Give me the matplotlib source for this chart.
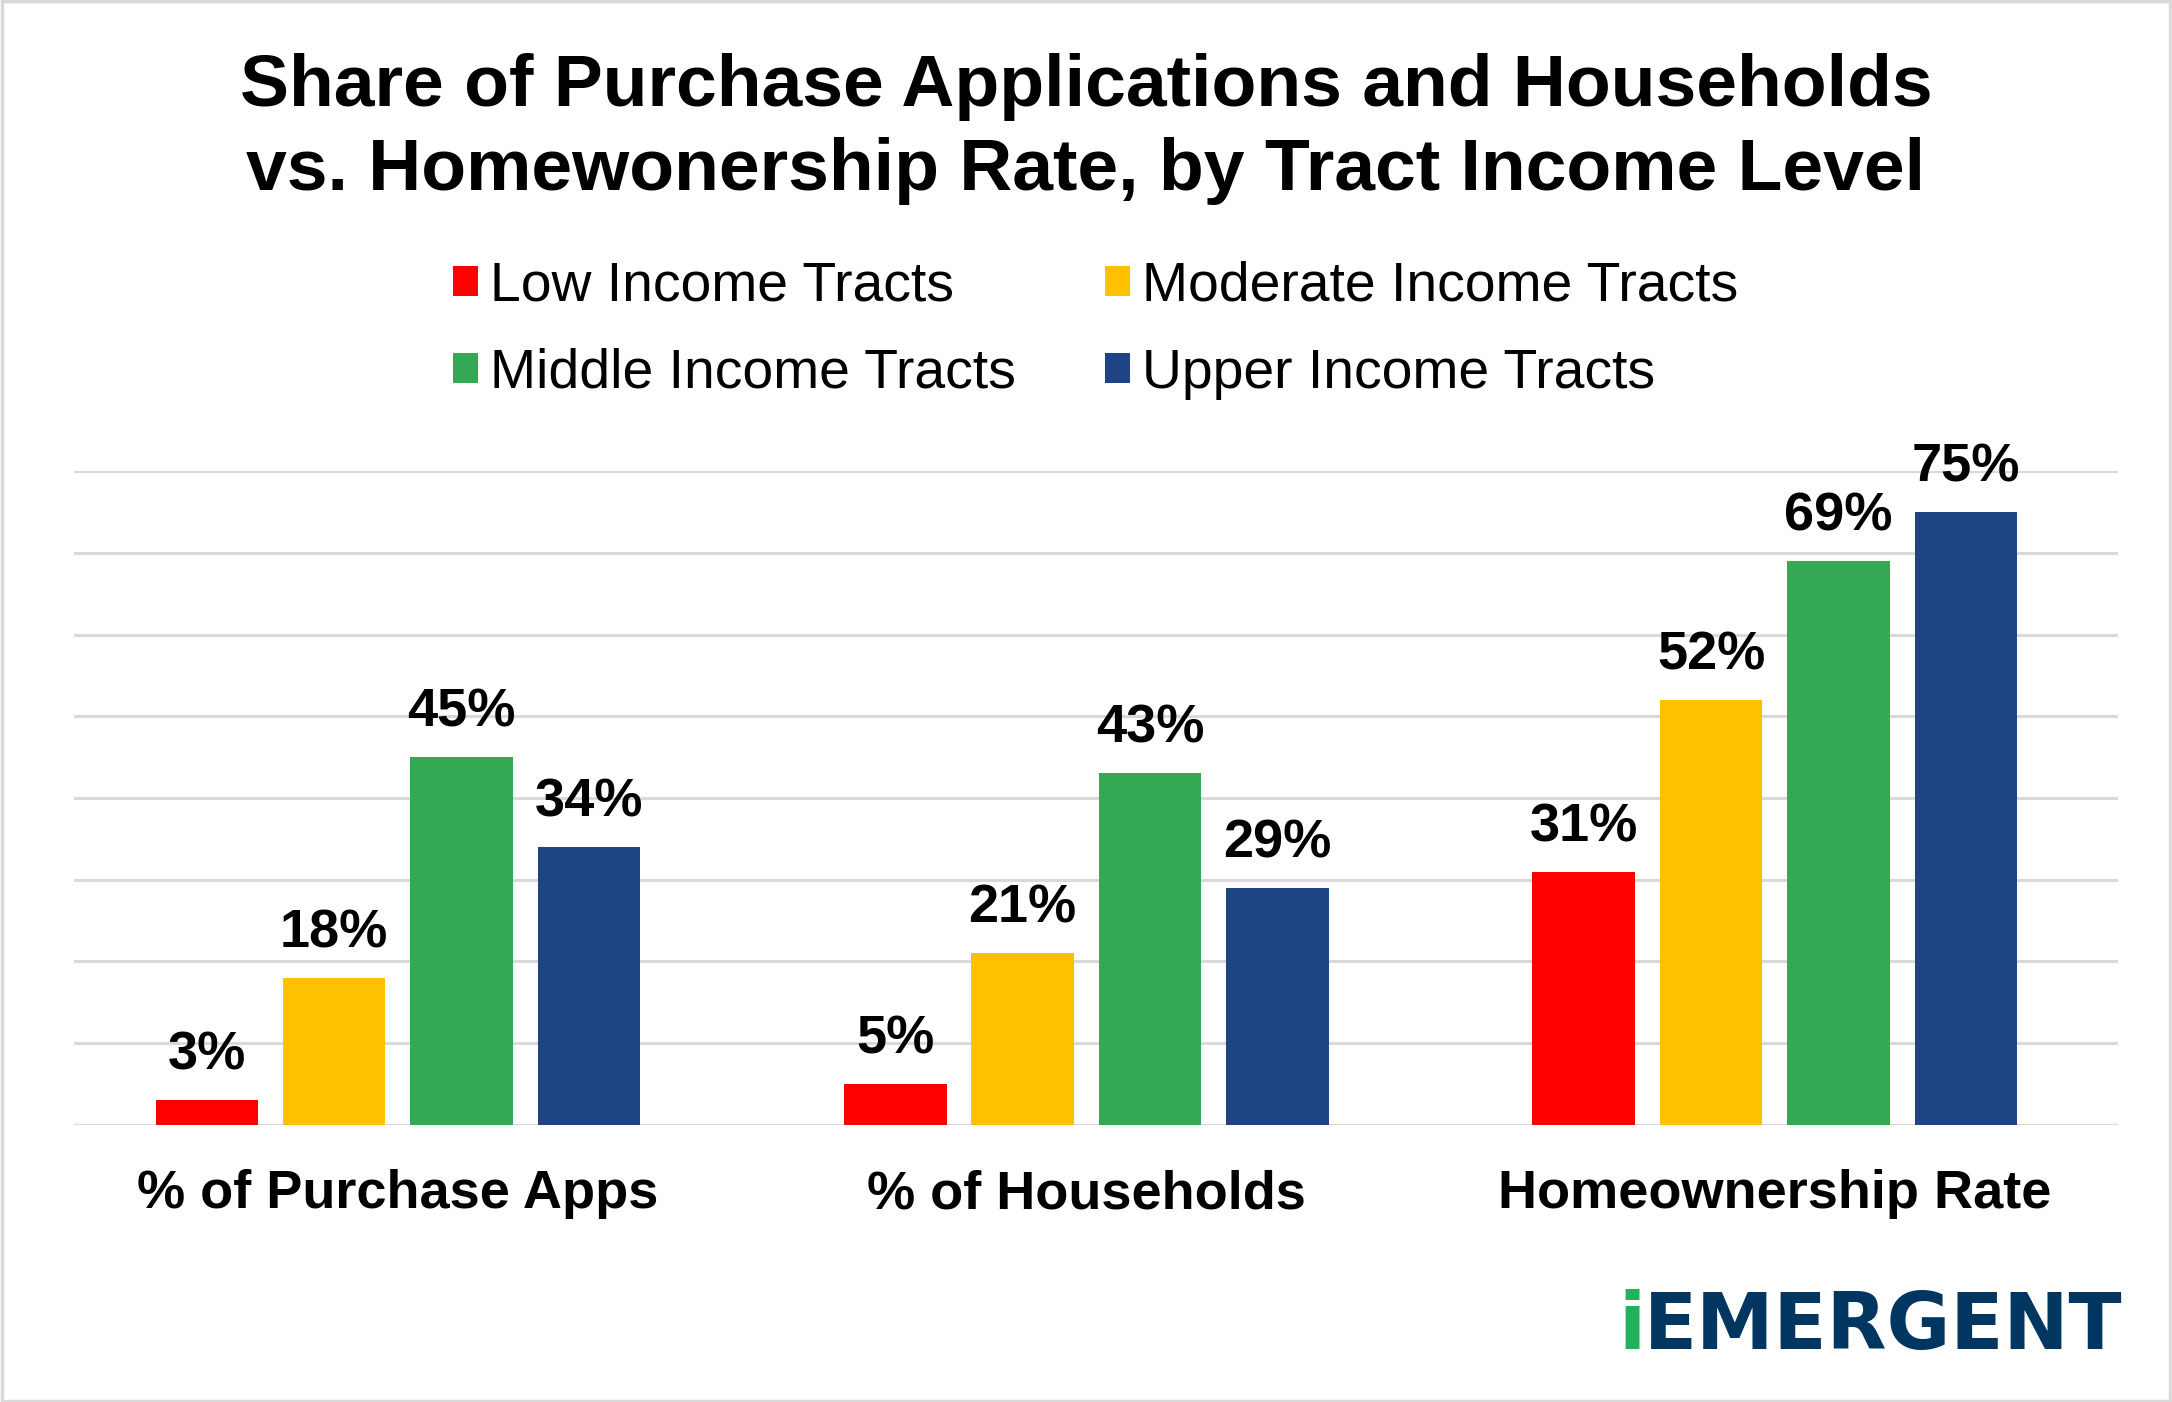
import matplotlib
matplotlib.use("Agg")
import matplotlib.pyplot as plt
import numpy as np
from matplotlib.patches import Rectangle, Patch

plt.rcParams['font.family'] = ['Liberation Sans', 'DejaVu Sans']

# data
categories = ['% of Purchase Apps', '% of Households', 'Homeownership Rate']
series = ['Low Income Tracts', 'Moderate Income Tracts',
          'Middle Income Tracts', 'Upper Income Tracts']
values = {
    'Low Income Tracts':      [3, 5, 31],
    'Moderate Income Tracts': [18, 21, 52],
    'Middle Income Tracts':   [45, 43, 69],
    'Upper Income Tracts':    [34, 29, 75],
}
colors = ['#FF0000', '#FFC000', '#34A853', '#1F4486']
title = 'Share of Purchase Applications and Households\nvs. Homewonership Rate, by Tract Income Level'

fig = plt.figure(figsize=(21.72, 14.02), dpi=100)
ax = fig.add_axes([0.034, 0.1976, 0.941, 0.4664])

x = np.arange(len(categories))
pitch = 0.185
width = 0.149
for i, (name, col) in enumerate(zip(series, colors)):
    xs = x + (i - 1.5) * pitch
    ax.bar(xs, values[name], width=width, color=col, zorder=3)
    for xi, v in zip(xs, values[name]):
        ax.annotate(f'{v}%', (xi, v), xytext=(0, 22), textcoords='offset points',
                    ha='center', va='baseline', fontsize=39, fontweight='bold')

ax.set_ylim(0, 80)
ax.set_xlim(-0.4706, 2.498)
ax.set_yticks(np.arange(0, 81, 10))
ax.yaxis.grid(True, color='#D9D9D9', linewidth=2.2, zorder=0)
ax.tick_params(axis='y', left=False, labelleft=False)
ax.set_xticks(x, categories)
ax.tick_params(axis='x', length=0, pad=32, labelsize=39)
for lab in ax.get_xticklabels():
    lab.set_fontweight('bold')
for s in ['top', 'right', 'left', 'bottom']:
    ax.spines[s].set_visible(False)

fig.text(0.5, 0.908, title, ha='center', va='center', fontsize=52.8,
         fontweight='bold', linespacing=1.29)

# legend: row-wise order (Low, Moderate / Middle, Upper)
order = [0, 2, 1, 3]
handles = [Patch(facecolor=colors[k], label=series[k]) for k in order]
fig.legend(handles=handles, ncol=2, loc='center', bbox_to_anchor=(0.5045, 0.7645),
           frameon=False, fontsize=39.8, handlelength=0.45, handleheight=0.45,
           handletextpad=0.22, columnspacing=1.6, labelspacing=0.645)

# logo
fig.text(1618 / 2172, 1 - 1349 / 1402, 'i', color='#22B25A', fontsize=57,
         fontweight='heavy', family='DejaVu Sans', ha='left', va='baseline')
fig.text(1644 / 2172, 1 - 1349 / 1402, 'EMERGENT', color='#003660', fontsize=56,
         fontweight='heavy', family='DejaVu Sans', ha='left', va='baseline')

fig.patches.append(Rectangle((0.001, 0.001), 0.998, 0.998, transform=fig.transFigure,
                             fill=False, edgecolor='#D9D9D9', linewidth=2.5))

fig.savefig('out.png', dpi=100, facecolor='white')
